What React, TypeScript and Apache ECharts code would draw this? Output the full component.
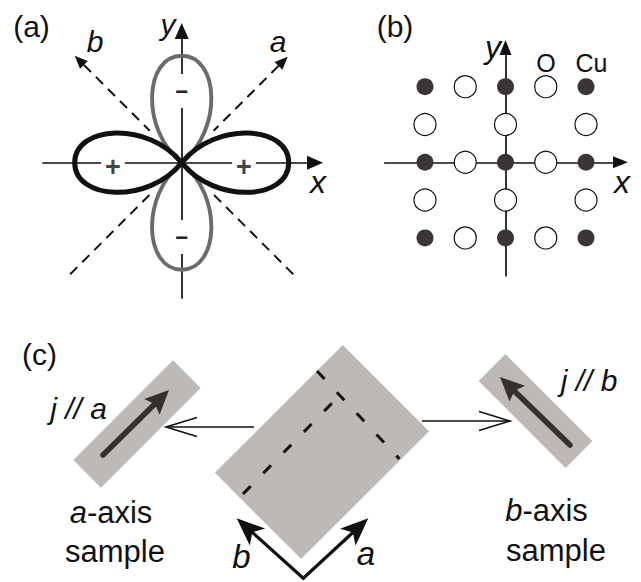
import React, { useEffect, useRef } from "react";
import * as echarts from "echarts";

const FONT = '"Liberation Sans", Arial, Helvetica, sans-serif';

// ---------- data ----------
// Panel (b): CuO2 plane, lattice sites in units of half the Cu–Cu spacing
const cuSites: [number, number][] = [
  [-2, 2], [0, 2], [2, 2],
  [-2, 0], [0, 0], [2, 0],
  [-2, -2], [0, -2], [2, -2],
];
const oSites: [number, number][] = [
  [-1, 2], [1, 2],
  [-2, 1], [0, 1], [2, 1],
  [-1, 0], [1, 0],
  [-2, -1], [0, -1], [2, -1],
  [-1, -2], [1, -2],
];
const siteNames = ["O", "Cu"];

// Panel (a): d-wave lobes (direction in degrees) and sign of the gap
const lobeAngles = [0, 180, 90, 270];
const lobeSigns = ["+", "+", "\u2212", "\u2212"];
const axisNames = ["x", "y"];
const crystalAxes = ["a", "b"];
const panelLabels = ["(a)", "(b)", "(c)"];
const currentLabels = ["j // a", "j // b"];
const sampleWord = "sample";

// ---------- geometry helpers ----------
const LOBE_D = "M0,0 C34,-42 107,-37 107,0 C107,37 34,42 0,0 Z";
const D = Math.PI / 180;

type P = [number, number];
function unit(a: P, b: P) {
  const dx = b[0] - a[0], dy = b[1] - a[1];
  const L = Math.hypot(dx, dy);
  return [dx / L, dy / L];
}
function solidArrow(from: P, tip: P, len: number, half: number, notch: number, color: string, width: number, z = 4) {
  const [ux, uy] = unit(from, tip);
  const px = -uy, py = ux;
  const bx = tip[0] - ux * len, by = tip[1] - uy * len;
  const nx = tip[0] - ux * (len - notch), ny = tip[1] - uy * (len - notch);
  return [
    { type: "line", z, shape: { x1: from[0], y1: from[1], x2: nx, y2: ny }, style: { stroke: color, lineWidth: width, lineCap: "round" } },
    { type: "polygon", z, shape: { points: [tip, [bx + px * half, by + py * half], [nx, ny], [bx - px * half, by - py * half]] }, style: { fill: color } },
  ];
}
function openArrow(from: P, tip: P, len: number, half: number, color: string, width: number) {
  const [ux, uy] = unit(from, tip);
  const px = -uy, py = ux;
  const bx = tip[0] - ux * len, by = tip[1] - uy * len;
  return [
    { type: "line", z: 4, shape: { x1: from[0], y1: from[1], x2: tip[0], y2: tip[1] }, style: { stroke: color, lineWidth: width } },
    { type: "polyline", z: 4, shape: { points: [[bx + px * half, by + py * half], tip, [bx - px * half, by - py * half]] }, style: { stroke: color, lineWidth: width, fill: null } },
  ];
}
function dashed(a: P, b: P, dash: number[], width: number, color = "#111") {
  return { type: "line", z: 4, shape: { x1: a[0], y1: a[1], x2: b[0], y2: b[1] }, style: { stroke: color, lineWidth: width, lineDash: dash, lineCap: "butt" } };
}
function label(x: number, y: number, text: string, fs: number, extra: any = {}) {
  return {
    type: "text", x, y, z: 10,
    style: { text, fontSize: fs, fontFamily: FONT, fill: "#111", align: "center", verticalAlign: "middle", ...extra },
  };
}
function rrect(cx: number, cy: number, w: number, h: number, rotDeg: number) {
  return { type: "rect", x: cx, y: cy, rotation: rotDeg * D, z: 1, shape: { x: -w / 2, y: -h / 2, width: w, height: h }, style: { fill: "#bdb9b6" } };
}

// ---------- option ----------
function buildOption() {
  const cx = 181.7, cy = 162.7;
  const g: any[] = [];

  // panel (a) lobes (gray first, black on top)
  const order = [2, 3, 0, 1];
  order.forEach((i) => {
    const black = lobeSigns[i] === "+";
    g.push({
      type: "lobe", x: cx, y: cy, rotation: lobeAngles[i] * D, z: black ? 3 : 2,
      style: { fill: null, stroke: black ? "#111" : "#6b6b6b", lineWidth: black ? 5 : 3.9 },
    });
  });
  const signPos: P[] = [[113, 167], [244, 167], [181.7, 91], [181.7, 237]];
  lobeSigns.forEach((s, i) => {
    const plus = s === "+";
    g.push(label(signPos[i][0], signPos[i][1], s, plus ? 27 : 22, {
      fontWeight: "bold", fill: plus ? "#444" : "#222", backgroundColor: "#fff", padding: plus ? [0, 4] : [6, 3],
    }));
  });

  // panel (a) dashed crystal axes a and b
  const dash = [10, 7];
  const tipB: P = [cx - 107, cy - 107], tipA: P = [cx + 106, cy - 106];
  const headLen = 13, headHalf = 5.5;
  const s2 = Math.SQRT1_2;
  g.push(dashed([tipB[0] + headLen * s2, tipB[1] + headLen * s2], [cx - 32, cy - 32], dash, 2));
  g.push(dashed([cx + 111.5, cy + 111.5], [cx + 32, cy + 32], dash, 2));
  g.push(dashed([tipA[0] - headLen * s2, tipA[1] + headLen * s2], [cx + 32, cy - 32], dash, 2));
  g.push(dashed([cx - 111.5, cy + 111.5], [cx - 32, cy + 32], dash, 2));
  g.push(solidArrow([cx - 40, cy - 40], tipB, headLen, headHalf, 0, "#111", 0)[1]);
  g.push(solidArrow([cx + 40, cy - 40], tipA, headLen, headHalf, 0, "#111", 0)[1]);

  // panel texts
  g.push(label(31.5, 26.4, panelLabels[0], 30));
  g.push(label(395, 26.4, panelLabels[1], 30));
  g.push(label(39.5, 354, panelLabels[2], 30));
  g.push(label(95, 41.6, crystalAxes[1], 30, { fontStyle: "italic" }));
  g.push(label(278, 41.6, crystalAxes[0], 30, { fontStyle: "italic" }));
  g.push(label(168, 24, axisNames[1], 30, { fontStyle: "italic" }));
  g.push(label(318, 182, axisNames[0], 32, { fontStyle: "italic" }));
  g.push(label(493, 47.2, axisNames[1], 32, { fontStyle: "italic" }));
  g.push(label(622, 182, axisNames[0], 32, { fontStyle: "italic" }));
  g.push(label(546, 63.3, siteNames[0], 25));
  g.push(label(591.5, 63.3, siteNames[1], 25));

  // panel (c)
  g.push(rrect(137, 424, 141, 39, 45));
  g.push(rrect(322, 452, 181, 122, 45));
  g.push(rrect(535.5, 411, 123, 38, -45));
  g.push(...solidArrow([103, 455], [169, 390], 24, 11, 4, "#34302f", 5.5));
  g.push(...solidArrow([570, 445], [500, 377], 24, 11, 4, "#34302f", 5.5));
  g.push(dashed([243, 494], [338, 397], [11, 18], 3));
  g.push(dashed([317, 371], [399.5, 459], [11, 18], 3));
  g.push(...openArrow([254, 427], [166, 427], 31, 9.5, "#111", 1.6));
  g.push(...openArrow([422, 421], [510, 421], 31, 9.5, "#111", 1.6));
  g.push(...solidArrow([303.3, 578.3], [236.7, 518.3], 28, 11.5, 7, "#111", 3.2));
  g.push(...solidArrow([303.3, 578.3], [368.3, 518.3], 28, 11.5, 7, "#111", 3.2));
  g.push(label(78.5, 408.3, currentLabels[0], 30, { fontStyle: "italic" }));
  g.push(label(589, 380.3, currentLabels[1], 30, { fontStyle: "italic" }));
  const rich = { it: { fontStyle: "italic", fontSize: 31, fontFamily: FONT, fill: "#111" } };
  g.push(label(111, 512.5, "{it|" + crystalAxes[0] + "}-axis", 31, { rich }));
  g.push(label(115, 551, sampleWord, 31));
  g.push(label(546.5, 510.5, "{it|" + crystalAxes[1] + "}-axis", 31, { rich }));
  g.push(label(556, 550, sampleWord, 31));
  g.push(label(241.5, 556.6, crystalAxes[1], 33, { fontStyle: "italic" }));
  g.push(label(366, 553.6, crystalAxes[0], 33, { fontStyle: "italic" }));

  const axisLine = (size: number[]) => ({
    show: true, onZero: true, symbol: ["none", "triangle"], symbolSize: size,
    lineStyle: { color: "#111", width: 1.7 },
  });
  const hidden = { axisTick: { show: false }, axisLabel: { show: false }, splitLine: { show: false } };

  return {
    animation: false,
    backgroundColor: "#fff",
    grid: [
      { left: 43, top: 31, width: 272, height: 267 },
      { left: 384.75, top: 47.5, width: 235.75, height: 228.2 },
    ],
    xAxis: [
      { type: "value", gridIndex: 0, min: -138.7, max: 133.3, axisLine: axisLine([14, 16]), ...hidden },
      { type: "value", gridIndex: 1, min: -3, max: 2.857, axisLine: axisLine([12, 15]), ...hidden },
    ],
    yAxis: [
      { type: "value", gridIndex: 0, min: -135.3, max: 131.7, axisLine: axisLine([14, 16]), ...hidden },
      { type: "value", gridIndex: 1, min: -3, max: 3.035, axisLine: axisLine([12, 15]), ...hidden },
    ],
    series: [
      {
        name: siteNames[0], type: "scatter", xAxisIndex: 1, yAxisIndex: 1, data: oSites, symbolSize: 22, silent: true,
        itemStyle: { color: "#fff", borderColor: "#111", borderWidth: 1.2, opacity: 1 },
      },
      {
        name: siteNames[1], type: "scatter", xAxisIndex: 1, yAxisIndex: 1, data: cuSites, symbolSize: 17, silent: true,
        itemStyle: { color: "#3b3535", opacity: 1 },
      },
    ],
    graphic: { elements: g },
  };
}

export default function App() {
  const ref = useRef<HTMLDivElement>(null);
  useEffect(() => {
    if (!ref.current) return;
    echarts.graphic.registerShape("lobe", echarts.graphic.extendPath(LOBE_D, {}) as any);
    const chart = echarts.init(ref.current, null, { renderer: "svg" });
    chart.setOption(buildOption() as any);
    return () => chart.dispose();
  }, []);
  return <div ref={ref} style={{ position: "absolute", left: 0, top: 0, width: 641, height: 582 }} />;
}
